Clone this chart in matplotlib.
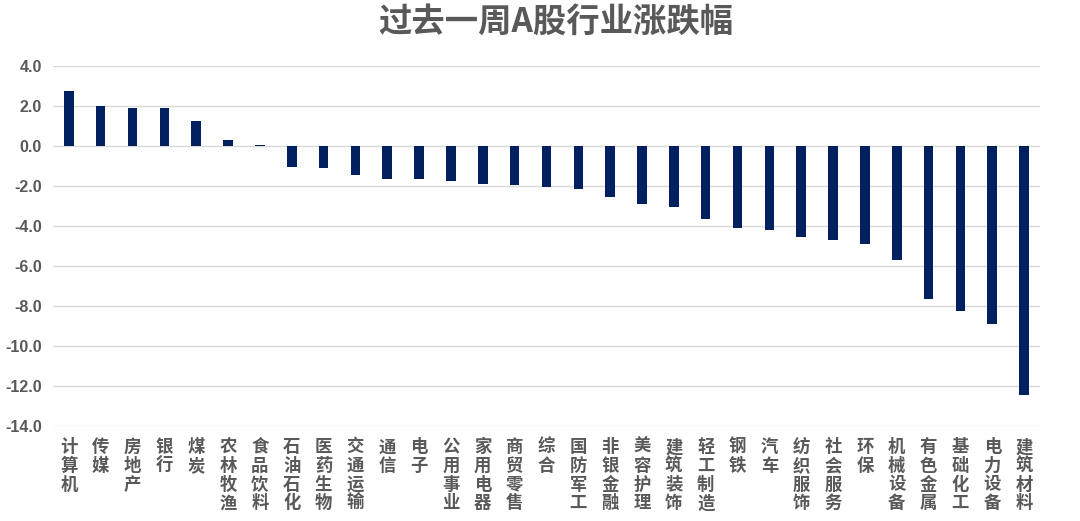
import matplotlib
matplotlib.use('Agg')
import matplotlib.pyplot as plt
import numpy as np

plt.rcParams['font.family'] = ['Liberation Sans', 'Noto Sans CJK SC', 'DejaVu Sans']
plt.rcParams['axes.unicode_minus'] = False

# industry weekly change (%)
industries = ['计算机', '传媒', '房地产', '银行', '煤炭', '农林牧渔', '食品饮料', '石油石化',
              '医药生物', '交通运输', '通信', '电子', '公用事业', '家用电器', '商贸零售', '综合',
              '国防军工', '非银金融', '美容护理', '建筑装饰', '轻工制造', '钢铁', '汽车', '纺织服饰',
              '社会服务', '环保', '机械设备', '有色金属', '基础化工', '电力设备', '建筑材料']
changes = [2.75, 2.03, 1.92, 1.92, 1.28, 0.33, 0.07, -1.02,
           -1.10, -1.42, -1.63, -1.63, -1.73, -1.88, -1.93, -2.05,
           -2.12, -2.54, -2.91, -3.06, -3.66, -4.10, -4.17, -4.54,
           -4.67, -4.87, -5.68, -7.63, -8.22, -8.87, -12.45]
yticks = [4.0, 2.0, 0.0, -2.0, -4.0, -6.0, -8.0, -10.0, -12.0, -14.0]

grey = '#595959'

fig = plt.figure(figsize=(10.8, 5.21), dpi=100)
ax = fig.add_axes([0.049, 0.182, 0.914, 0.691])

x = np.arange(len(industries))
ax.bar(x, changes, width=0.3, color='#002060', zorder=3)

ax.set_xlim(-0.5, len(industries) - 0.5)
ax.set_ylim(-14, 4)
ax.set_yticks(yticks)
ax.set_yticklabels(['%.1f' % v for v in yticks], fontsize=11.5, fontweight='bold', color=grey)
ax.yaxis.grid(True, color='#d9d9d9', linewidth=1, zorder=0)
ax.set_xticks([])
ax.tick_params(axis='y', length=0, pad=8)
for s in ax.spines.values():
    s.set_visible(False)

# vertical stacked category labels below the plot
for i, name in enumerate(industries):
    ax.text(i, -14.6, '\n'.join(name), ha='center', va='top', fontsize=12.5,
            fontweight='bold', color=grey, linespacing=1.05,
            family=['Noto Sans CJK SC', 'DejaVu Sans'])

fig.text(0.515, 0.955, '过去一周A股行业涨跌幅', ha='center', va='center', fontsize=24,
         fontweight='bold', color=grey, family=['Noto Sans CJK SC', 'DejaVu Sans'])

fig.savefig('out.png', dpi=100)
